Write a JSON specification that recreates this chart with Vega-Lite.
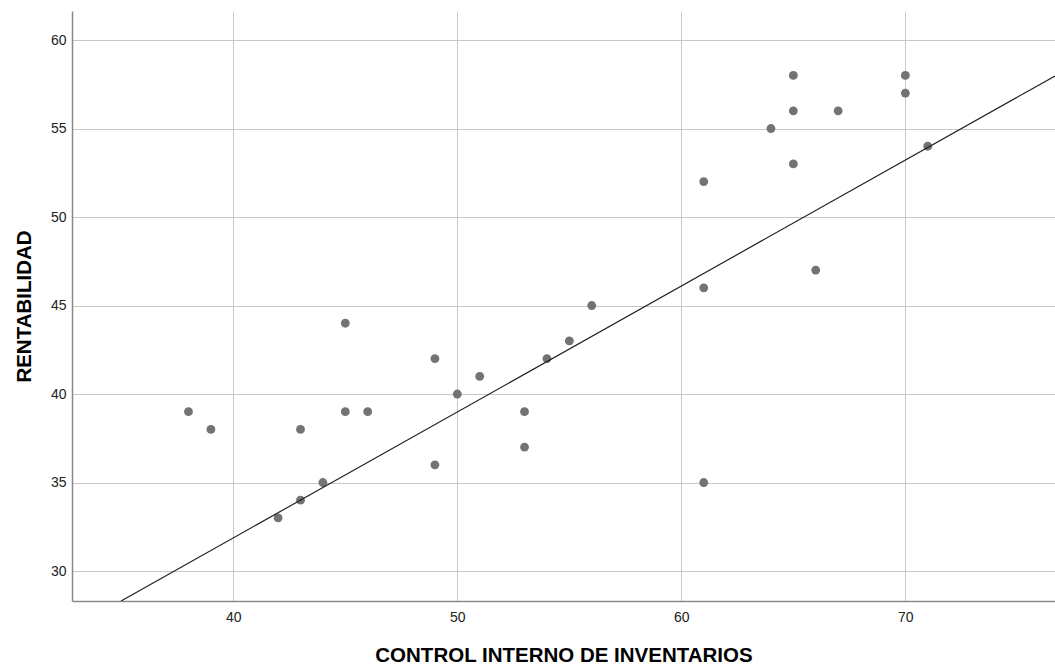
{
  "$schema": "https://vega.github.io/schema/vega-lite/v6.json",
  "width": 983,
  "height": 590,
  "autosize": "none",
  "padding": {"left": 72, "top": 11, "right": 0, "bottom": 68},
  "background": "white",
  "config": {
    "view": {"stroke": null},
    "font": "Liberation Sans",
    "axis": {
      "gridColor": "#c8c8c8",
      "gridWidth": 1,
      "domainColor": "#8a8a8a",
      "domainWidth": 1.5,
      "ticks": false,
      "labelFont": "Liberation Sans",
      "labelFontSize": 14,
      "labelColor": "#222222",
      "titleFont": "Liberation Sans",
      "titleFontSize": 20.5,
      "titleFontWeight": "bold",
      "titleColor": "#000000"
    }
  },
  "layer": [
    {
      "data": {"values": [
        {"control": 38, "rent": 39}, {"control": 39, "rent": 38}, {"control": 42, "rent": 33},
        {"control": 43, "rent": 34}, {"control": 43, "rent": 38}, {"control": 44, "rent": 35},
        {"control": 45, "rent": 44}, {"control": 45, "rent": 39}, {"control": 46, "rent": 39},
        {"control": 49, "rent": 42}, {"control": 49, "rent": 36}, {"control": 50, "rent": 40},
        {"control": 51, "rent": 41}, {"control": 53, "rent": 39}, {"control": 53, "rent": 37},
        {"control": 54, "rent": 42}, {"control": 55, "rent": 43}, {"control": 56, "rent": 45},
        {"control": 61, "rent": 52}, {"control": 61, "rent": 46}, {"control": 61, "rent": 35},
        {"control": 64, "rent": 55}, {"control": 65, "rent": 58}, {"control": 65, "rent": 56},
        {"control": 65, "rent": 53}, {"control": 66, "rent": 47}, {"control": 67, "rent": 56},
        {"control": 70, "rent": 58}, {"control": 70, "rent": 57}, {"control": 71, "rent": 54}
      ]},
      "mark": {"type": "circle", "size": 78, "color": "#737373", "opacity": 1},
      "encoding": {
        "x": {
          "field": "control", "type": "quantitative",
          "scale": {"domain": [32.8, 76.68], "nice": false, "zero": false},
          "axis": {"values": [40, 50, 60, 70], "title": "CONTROL INTERNO DE INVENTARIOS", "labelPadding": 9, "titlePadding": 21, "grid": true}
        },
        "y": {
          "field": "rent", "type": "quantitative",
          "scale": {"domain": [28.305, 61.64], "nice": false, "zero": false},
          "axis": {"values": [30, 35, 40, 45, 50, 55, 60], "title": "RENTABILIDAD", "labelPadding": 6, "titlePadding": 16, "grid": true}
        }
      }
    },
    {
      "data": {"values": [
        {"control": 34.99, "rent": 28.305},
        {"control": 76.68, "rent": 57.97}
      ]},
      "mark": {"type": "line", "color": "#222222", "strokeWidth": 1.2, "clip": true},
      "encoding": {
        "x": {"field": "control", "type": "quantitative"},
        "y": {"field": "rent", "type": "quantitative"}
      }
    }
  ]
}
